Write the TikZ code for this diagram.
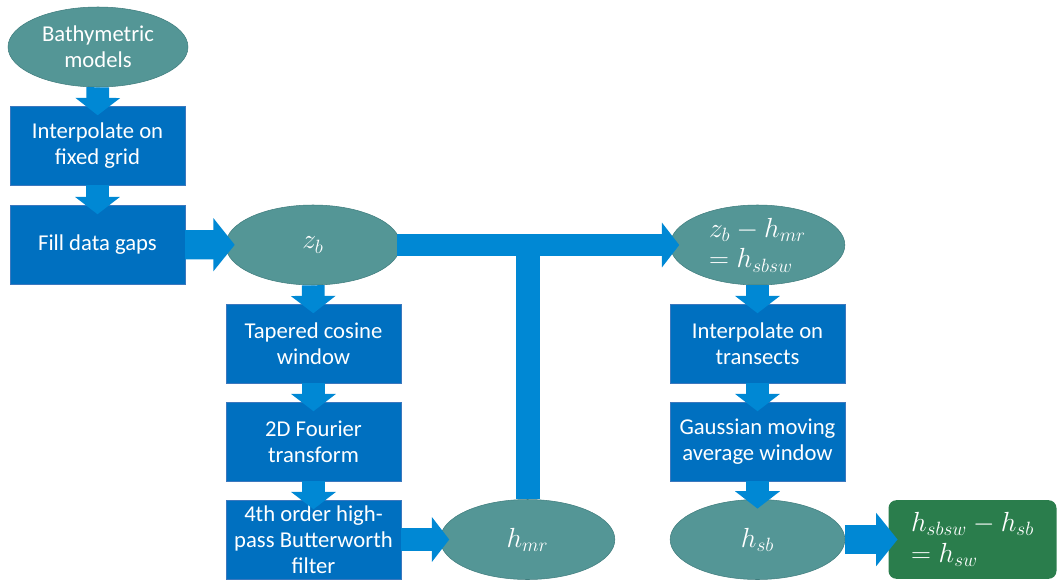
\documentclass[tikz,border=0pt]{standalone}
\usepackage{fontspec}
\setmainfont{Carlito}
\usetikzlibrary{arrows.meta,shapes.geometric}

\definecolor{tealfill}{RGB}{84,150,150}
\definecolor{tealedge}{RGB}{64,125,126}
\definecolor{boxblue}{RGB}{0,112,192}
\definecolor{boxedge}{RGB}{60,120,190}
\definecolor{flowblue}{RGB}{0,136,212}
\definecolor{resgreen}{RGB}{42,125,76}

\tikzset{
  procbox/.style={rectangle, fill=boxblue, draw=boxedge, text=white, inner sep=0pt,
    minimum width=131pt, minimum height=59pt, align=center,
    font=\fontsize{17}{19.5}\selectfont},
  datanode/.style={ellipse, fill=tealfill, draw=tealedge, text=white, inner sep=0pt,
    minimum width=131pt, minimum height=60pt,
    font=\fontsize{17}{19.5}\selectfont},
  mathnode/.style={datanode, align=left, font=\fontsize{21}{23}\selectfont},
  flow/.style={draw=flowblue, line width=17pt, shorten >=-7pt,
    -{Triangle[width=33pt,length=13pt]}},
  bigflow/.style={draw=flowblue, line width=22pt, shorten >=-7pt,
    -{Triangle[width=39pt,length=16pt]}}
}

\begin{document}
\begin{tikzpicture}[x=0.75pt, y=-0.75pt]
  \useasboundingbox (0,0) rectangle (1057,579);

  % 左列：预处理
  \node[datanode, minimum width=135pt, align=center] (bathy) at (98,47) {Bathymetric\\models};
  \node[procbox] (interp) at (97.5,145.5) {Interpolate on\\fixed grid};
  \node[procbox] (fill) at (97.5,244.5) {Fill data gaps};

  % 中列：高通滤波
  \node[mathnode] (zb) at (313,245) {$z_b$};
  \node[procbox] (taper) at (313.5,343.5) {Tapered cosine\\window};
  \node[procbox] (fourier) at (313.5,441.5) {2D Fourier\\transform};
  \node[procbox] (butter) at (313.5,539.5) {4th order high-\\pass Butterworth\\filter};
  \node[mathnode] (hmr) at (527.5,539.5) {$h_{mr}$};

  % 右列：平滑与差分
  \node[mathnode] (zbh) at (757.5,245) {$z_b-h_{mr}$\\$=h_{sbsw}$};
  \node[procbox] (transect) at (757.5,343.5) {Interpolate on\\transects};
  \node[procbox] (gauss) at (757.5,441.5) {Gaussian moving\\average window};
  \node[mathnode] (hsb) at (757.5,539.5) {$h_{sb}$};
  \node[rectangle, rounded corners=6pt, fill=resgreen, text=white, inner sep=0pt,
    minimum width=126pt, minimum height=59pt, align=left,
    font=\fontsize{21}{23}\selectfont] (hsw) at (972.5,539.5) {$h_{sbsw}-h_{sb}$\\$=h_{sw}$};

  % 箭头
  \draw[flow] (bathy) -- (interp);
  \draw[flow] (interp) -- (fill);
  \draw[bigflow] (fill) -- (zb);
  \draw[flow] (zb) -- (taper);
  \draw[flow] (taper) -- (fourier);
  \draw[flow] (fourier) -- (butter);
  \draw[flow] (butter) -- (hmr);
  \draw[draw=flowblue, line width=18pt] (hmr.north) -- (hmr.north |- zb.east);
  \draw[flow, shorten <=-3pt] (zb.east) -- (zbh.west);
  \draw[flow] (zbh) -- (transect);
  \draw[flow] (transect) -- (gauss);
  \draw[flow] (gauss) -- (hsb);
  \draw[bigflow] (hsb) -- (hsw);
\end{tikzpicture}
\end{document}
